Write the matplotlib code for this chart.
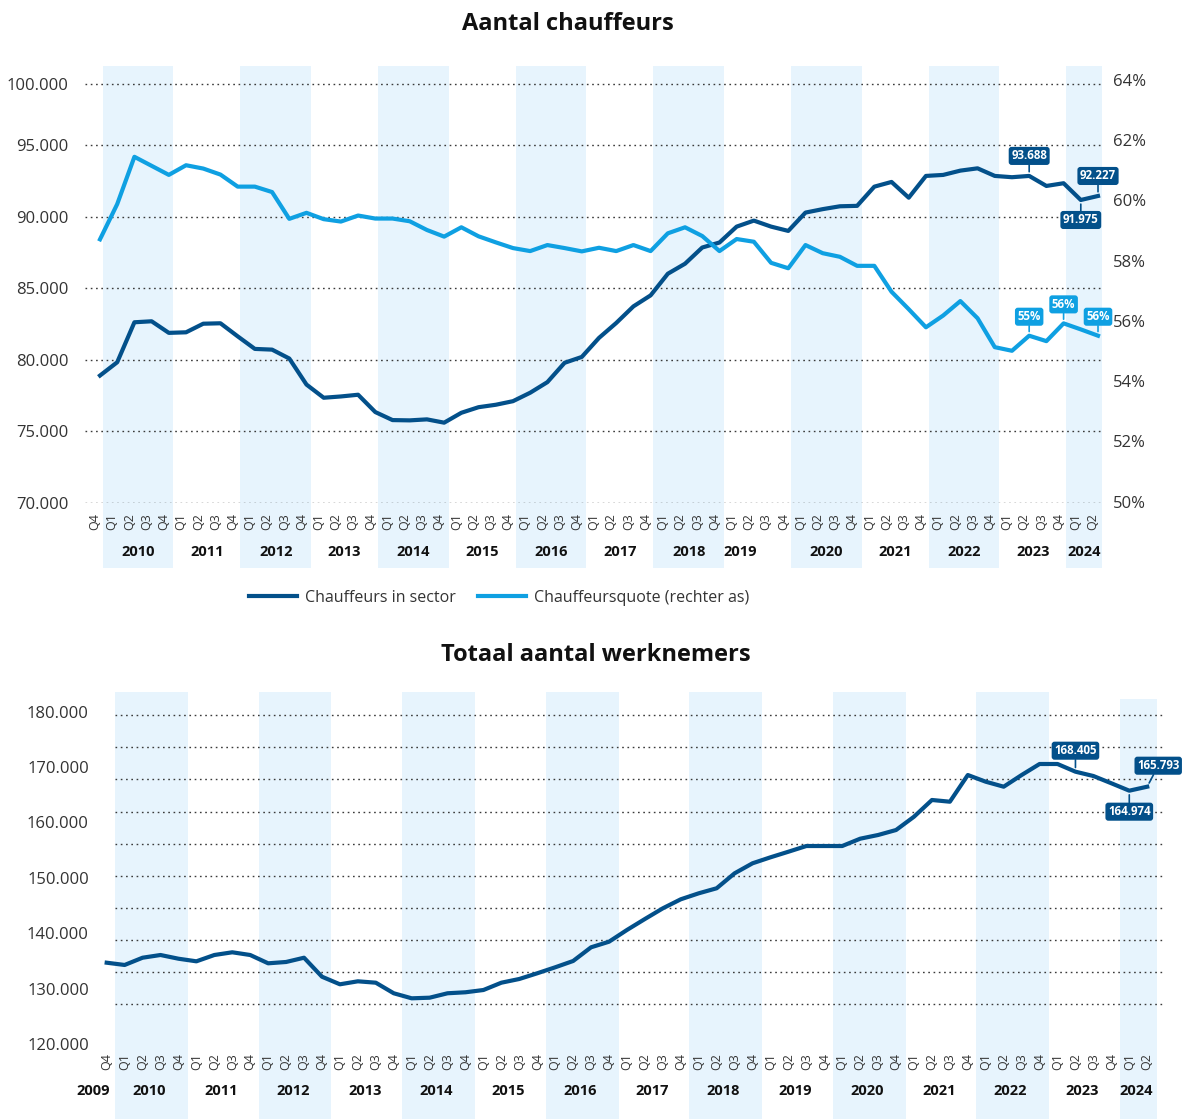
import numpy as np
import matplotlib
matplotlib.use("Agg")
import matplotlib.pyplot as plt
from matplotlib import transforms
from matplotlib.lines import Line2D

plt.rcParams['font.family'] = ['Open Sans', 'DejaVu Sans']

# ---------------- data ----------------
quarters = ['Q4'] + ['Q1', 'Q2', 'Q3', 'Q4'] * 14 + ['Q1', 'Q2']
quarter_years = [2009] + [y for y in range(2010, 2024) for _ in range(4)] + [2024, 2024]

chauffeurs = [78900, 79830, 82620, 82690, 81880, 81920, 82520, 82550, 81640, 80760,
              80710, 80090, 78270, 77350, 77440, 77560, 76350, 75790, 75770, 75840,
              75610, 76300, 76690, 76860, 77110, 77700, 78440, 79790, 80200, 81530,
              82570, 83730, 84500, 86010, 86710, 87840, 88190, 89300, 89720, 89300,
              89000, 90280, 90520, 90720, 90750, 92090, 92420, 91320, 92840, 92910,
              93210, 93370, 92840, 92750, 92840, 92140, 92330, 91160, 91440]

quote = [58.71, 59.88, 61.45, 61.15, 60.85, 61.17, 61.06, 60.86, 60.46, 60.46,
         60.28, 59.39, 59.59, 59.38, 59.30, 59.50, 59.40, 59.40, 59.31, 59.02,
         58.80, 59.11, 58.81, 58.61, 58.42, 58.32, 58.52, 58.42, 58.31, 58.43,
         58.32, 58.52, 58.32, 58.91, 59.11, 58.82, 58.32, 58.72, 58.63, 57.93,
         57.75, 58.52, 58.25, 58.13, 57.83, 57.83, 56.97, 56.39, 55.79, 56.18,
         56.66, 56.09, 55.13, 55.01, 55.51, 55.33, 55.92, 55.72, 55.51]

werknemers = [134680, 134270, 135580, 136070, 135400, 134930, 136070, 136560, 136070, 134570,
              134810, 135580, 132150, 130780, 131320, 131070, 129160, 128250, 128360, 129160,
              129340, 129750, 131070, 131740, 132770, 133850, 134990, 137460, 138470, 140590,
              142570, 144500, 146130, 147210, 148120, 150820, 152630, 153710, 154720, 155750,
              155750, 155750, 157070, 157740, 158640, 161040, 164060, 163750, 168570, 167360,
              166460, 168570, 170560, 170560, 169170, 168390, 167080, 165740, 166460]

band_years = [2010, 2012, 2014, 2016, 2018, 2020, 2022, 2024]

top_left_ticks = [70000, 75000, 80000, 85000, 90000, 95000, 99260]
top_left_labels = ['70.000', '75.000', '80.000', '85.000', '90.000', '95.000', '100.000']
top_right_ticks = [50, 52, 54, 56, 58, 60, 62, 64]
top_right_labels = ['50%', '52%', '54%', '56%', '58%', '60%', '62%', '64%']
bot_ticks = [120000, 130000, 140000, 150000, 160000, 170000, 180000]
bot_labels = ['120.000', '130.000', '140.000', '150.000', '160.000', '170.000', '180.000']

# tags: (index, text, direction)
tags_chauffeurs = [(54, '93.688', 1), (57, '91.975', -1), (58, '92.227', 1)]
tags_quote = [(54, '55%', 1), (56, '56%', 1), (58, '56%', 1)]
tags_werknemers = [(54, '168.405', 1, 0), (57, '164.974', -1, 0), (58, '165.793', 1, 11)]

# ---------------- style ----------------
DARK = '#03508a'
LIGHT = '#0fa0e2'
BAND = '#e7f4fd'
GRID = '#3a3a3a'
TXT = '#333333'
DOT = (0, (1.2, 2.6))
W, H = 1182, 1119

def rect(l, t, r, b):
    return [l / W, 1 - b / H, (r - l) / W, (b - t) / H]

n = len(quarters)
x = np.arange(n)
years_all = sorted(set(quarter_years))

fig = plt.figure(figsize=(W / 100, H / 100), dpi=100)

# ================= TOP CHART =================
ax1 = fig.add_axes(rect(85, 66, 1103, 503))
ax1.set_xlim(-0.872, 58.29)
ax1.set_ylim(70000, 100516)
ax2 = ax1.twinx()
ax2.set_ylim(49.956, 64.465)

tick_shift_top = -0.29
for yr in band_years:
    idx = [i for i, q in enumerate(quarter_years) if q == yr]
    ax1.axvspan(idx[0] + tick_shift_top - 0.55, idx[-1] + tick_shift_top + 0.55,
                ymin=-0.1487, ymax=1.0, color=BAND, lw=0, zorder=0, clip_on=False)

ax1.set_yticks(top_left_ticks)
ax1.set_yticklabels(top_left_labels)
ax1.grid(axis='y', linestyle=DOT, color=GRID, lw=1.0)
ax1.set_axisbelow(True)
ax1.tick_params(axis='y', length=0, pad=12, labelsize=12, labelcolor=TXT)

ax1.set_xticks(x + tick_shift_top)
ax1.set_xticklabels(quarters, rotation=90, fontsize=9, color=TXT)
ax1.tick_params(axis='x', length=0, pad=7.5)

ax2.set_yticks(top_right_ticks)
ax2.set_yticklabels(top_right_labels)
ax2.tick_params(axis='y', length=0, pad=7, labelsize=12, labelcolor=TXT)

for a in (ax1, ax2):
    for s in a.spines.values():
        s.set_visible(False)
    a.patch.set_visible(False)

ax1.plot(x, chauffeurs, color=DARK, lw=3, solid_joinstyle='round', zorder=3)
ax2.plot(x, quote, color=LIGHT, lw=3, solid_joinstyle='round', zorder=3)

trans1 = transforms.blended_transform_factory(ax1.transData, ax1.transAxes)
year_shift_top = {2019: -1.0}
for yr in years_all:
    if yr == 2009:
        continue
    idx = [i for i, q in enumerate(quarter_years) if q == yr]
    cx = np.mean(idx) + tick_shift_top + year_shift_top.get(yr, 0)
    ax1.text(cx, -0.1121, str(yr), transform=trans1, ha='center', va='center',
             fontsize=10.5, fontweight='bold', color='#111111')


def tag(ax, xi, yv, text, color, direction, dx=0, dist=20):
    ax.annotate(text, xy=(xi, yv), xytext=(dx, direction * dist), textcoords='offset pixels',
                ha='center', va='center', color='white', fontsize=8.3, fontweight='bold',
                bbox=dict(boxstyle='round,pad=0.22,rounding_size=0.25', fc=color, ec='none'),
                arrowprops=dict(arrowstyle='-', color=color, lw=1.2, shrinkA=0, shrinkB=3),
                zorder=6, annotation_clip=False)

for i, t, d in tags_chauffeurs:
    tag(ax1, x[i], chauffeurs[i], t, DARK, d)
for i, t, d in tags_quote:
    tag(ax2, x[i], quote[i], t, LIGHT, d, dist=19)

fig.text(568 / W, 1 - 24 / H, 'Aantal chauffeurs', ha='center', va='center',
         fontsize=17, fontweight='bold', color='#111111')

fig.legend(handles=[Line2D([], [], color=DARK, lw=3), Line2D([], [], color=LIGHT, lw=3)],
           labels=['Chauffeurs in sector', 'Chauffeursquote (rechter as)'],
           loc='center', bbox_to_anchor=(499 / W, 1 - 598 / H), ncol=2, frameon=False,
           fontsize=11.5, handlelength=3.0, handletextpad=0.5, columnspacing=1.4,
           labelcolor=TXT)

# ================= BOTTOM CHART =================
ax3 = fig.add_axes(rect(100, 692, 1170, 1044))
ax3.set_xlim(-0.373, 59.27)
ax3.set_ylim(120000, 183560)

for yr in band_years:
    idx = [i for i, q in enumerate(quarter_years) if q == yr]
    top = 0.980 if yr == 2024 else 1.0
    ax3.axvspan(idx[0] - 0.53, idx[-1] + 0.53, ymin=-0.213, ymax=top,
                color=BAND, lw=0, zorder=0, clip_on=False)

grid_levels = [179460, 173575, 167797, 161946, 156168, 150389, 144558, 138779, 132947, 127169]
ax3.hlines(grid_levels, 0.46, 58.88, colors=GRID, linestyles=[DOT], lw=1.0, zorder=1)

ax3.set_yticks(bot_ticks)
ax3.set_yticklabels(bot_labels)
ax3.tick_params(axis='y', length=0, pad=8, labelsize=12, labelcolor=TXT)
ax3.set_xticks(x)
ax3.set_xticklabels(quarters, rotation=90, fontsize=9, color=TXT)
ax3.tick_params(axis='x', length=0, pad=6.5)
for s in ax3.spines.values():
    s.set_visible(False)
ax3.patch.set_visible(False)

ax3.plot(x, werknemers, color=DARK, lw=3, solid_joinstyle='round', zorder=3, clip_on=False)

trans3 = transforms.blended_transform_factory(ax3.transData, ax3.transAxes)
year_shift_bot = {2009: -0.75}
for yr in years_all:
    idx = [i for i, q in enumerate(quarter_years) if q == yr]
    cx = np.mean(idx) + year_shift_bot.get(yr, -0.12)
    ax3.text(cx, -0.1335, str(yr), transform=trans3, ha='center', va='center',
             fontsize=10.5, fontweight='bold', color='#111111')

for i, t, d, dx in tags_werknemers:
    tag(ax3, x[i], werknemers[i], t, DARK, d, dx=dx, dist=21)

fig.text(595.5 / W, 1 - 655 / H, 'Totaal aantal werknemers', ha='center', va='center',
         fontsize=17, fontweight='bold', color='#111111')

fig.savefig('out.png', dpi=100)
